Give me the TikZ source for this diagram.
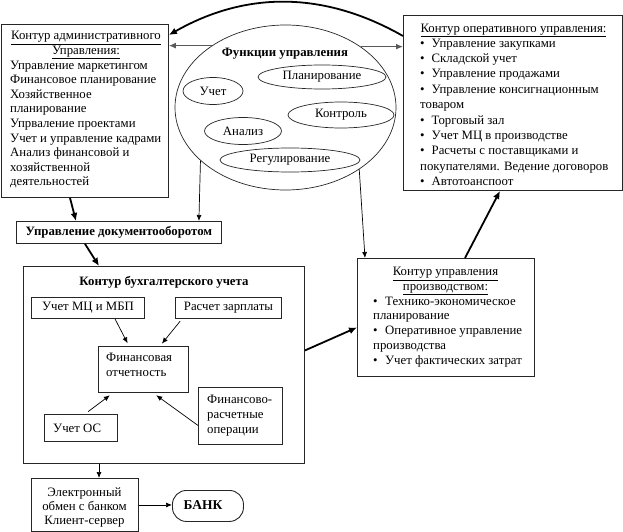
\documentclass[tikz,border=0pt]{standalone}
\usepackage{fontspec}
\setmainfont{Liberation Serif}
\usetikzlibrary{arrows.meta,shapes.geometric}
\begin{document}
\begin{tikzpicture}[x=1pt,y=-1pt,
  every node/.style={inner sep=0pt, font=\fontsize{12.8}{14.6}\selectfont},
  box/.style={draw=black!85, line width=0.9pt, anchor=north west},
  ell/.style={ellipse, draw=black!85, line width=0.7pt, fill=white},
  bigarrow/.style={line width=1.8pt, -{Latex[length=8pt,width=7pt]}},
  smallarrow/.style={line width=0.7pt, -{Latex[length=6pt,width=5pt]}},
  grayarrow/.style={line width=1.2pt, draw=black!65, -{Latex[length=7pt,width=6pt]}},
  boldtxt/.style={font=\fontsize{12.8}{14.6}\selectfont\bfseries},
]
\useasboundingbox (0,0) rectangle (623,532);

% administrative contour
\node[box, minimum width=167pt, minimum height=173pt] (adm) at (1,24) {};
\node[align=center, anchor=north] (admt) at (86,31) {\underline{Контур административного}\\\underline{Управления:}};
\node[align=left, anchor=north west] (admb) at (10,60.5) {Управление маркетингом\\Финансовое планирование\\Хозяйственное\\планирование\\Упрваление проектами\\Учет и управление кадрами\\Анализ финансовой и\\хозяйственной\\деятельностей};

% operational contour
\node[box, minimum width=219pt, minimum height=175pt] (ops) at (403,15) {};
\node[align=center, anchor=north] (opst) at (513.5,23.5) {\underline{Контур оперативного управления:}};
\node[align=left, anchor=north west, font=\fontsize{12.8}{15.4}\selectfont] (opsb) at (420,38.5) {\textbullet\hspace{7pt}Управление закупками\\
\textbullet\hspace{7pt}Складской учет\\
\textbullet\hspace{7pt}Управление продажами\\
\textbullet\hspace{7pt}Управление консигнационным\\
товаром\\
\textbullet\hspace{7pt}Торговый зал\\
\textbullet\hspace{7pt}Учет МЦ в производстве\\
\textbullet\hspace{7pt}Расчеты с поставщиками и\\
покупателями. Ведение договоров\\
\textbullet\hspace{7pt}Автотоанспоот};

% management functions
\node[ell, minimum width=221pt, minimum height=165pt] (fun) at (285.5,107.5) {};
\node[boldtxt] (funt) at (285,54) {Функции управления};
\node[ell, minimum width=60pt, minimum height=27pt] (uchet) at (213,91) {Учет};
\node[ell, minimum width=128pt, minimum height=24pt] (plan) at (322,77) {Планирование};
\node[ell, minimum width=106pt, minimum height=26pt] (kontr) at (341,115) {Контроль};
\node[ell, minimum width=77pt, minimum height=27pt] (anal) at (243,131) {Анализ};
\node[ell, minimum width=140pt, minimum height=24pt] (reg) at (290,160) {Регулирование};

% document flow
\node[box, boldtxt, minimum width=205pt, minimum height=22pt] (doc) at (16,221) {Управление документооборотом};

% accounting contour
\node[box, minimum width=281pt, minimum height=197pt] (acc) at (23,266) {};
\node[boldtxt] (acct) at (164,282) {Контур бухгалтерского учета};
\node[box, minimum width=113pt, minimum height=21pt] (mcz) at (31,297) {Учет МЦ и МБП};
\node[box, minimum width=106pt, minimum height=21pt] (zp) at (175,297) {Расчет зарплаты};
\node[box, minimum width=90pt, minimum height=46pt] (fin) at (98,346) {};
\node[align=left, anchor=north west, font=\fontsize{12.8}{15}\selectfont] (fint) at (106,353) {Финансовая\\отчетность};
\node[box, minimum width=73pt, minimum height=27pt] (os) at (44,414) {};
\node[anchor=west] (ost) at (53,428.5) {Учет ОС};
\node[box, minimum width=84pt, minimum height=57pt] (fr) at (198,387) {};
\node[align=left, anchor=north west, font=\fontsize{12.8}{15}\selectfont] (frt) at (207,395) {Финансово-\\расчетные\\операции};

% electronic exchange and bank
\node[box, minimum width=107pt, minimum height=53pt] (el) at (31,478) {};
\node[align=center, font=\fontsize{12.8}{14}\selectfont] (elt) at (84.5,507) {Электронный\\обмен с банком\\Клиент-сервер};
\node[draw=black!85, line width=0.9pt, rounded corners=14pt, anchor=north west, minimum width=71pt, minimum height=31pt] (bank) at (172,490) {};
\node[font=\fontsize{13.5}{15}\selectfont\bfseries] (bankt) at (203,505.5) {БАНК};

% production contour
\node[box, minimum width=177pt, minimum height=118pt] (prod) at (357,258) {};
\node[align=center, anchor=north, font=\fontsize{12.8}{14.8}\selectfont] (prodt) at (445.5,267) {\underline{Контур управления}\\\underline{производством:}};
\node[align=left, anchor=north west, font=\fontsize{12.8}{14.8}\selectfont] (prodb) at (373,296.5) {\textbullet\hspace{7.5pt}Технико-экономическое\\
планирование\\
\textbullet\hspace{7.5pt}Оперативное управление\\
производства\\
\textbullet\hspace{7.5pt}Учет фактических затрат};

% connectors
\draw[bigarrow] ([yshift=-21pt]ops.north west) .. controls (324,-9) and (246,-9) .. ([yshift=-11pt]adm.north east);
\draw[grayarrow] (fun.140.2) -- (fun.140.2 -| adm.east);
\draw[grayarrow] (fun.39.8) -- (fun.39.8 -| ops.west);
\draw[smallarrow] (fun.212.5) -- ([xshift=-23pt]doc.north east);
\draw[smallarrow] (fun.320) -- ([xshift=8pt]prod.north west);
\draw[bigarrow] ([xshift=69pt]adm.south west) -- ([xshift=60pt]doc.north west);
\draw[bigarrow] ([xshift=69pt]doc.south west) -- ([xshift=76pt]acc.north west);
\draw[bigarrow] ([yshift=14.5pt]acc.east) -- ([yshift=-10pt]prod.west);
\draw[bigarrow] ([xshift=108pt]prod.north west) -- ([xshift=97pt]ops.south west);
\draw[smallarrow, shorten >=3pt] ([xshift=84pt]mcz.south west) -- ([xshift=31pt]fin.north west);
\draw[smallarrow, shorten <=3pt, shorten >=3pt] ([xshift=7pt]zp.south west) -- ([xshift=62pt]fin.north west);
\draw[smallarrow, shorten <=4pt, shorten >=4pt] ([xshift=41pt]os.north west) -- ([xshift=15pt]fin.south west);
\draw[smallarrow, shorten >=4pt] ([yshift=-9.5pt]fr.west) -- ([xshift=55pt]fin.south west);
\draw[smallarrow] ([xshift=76pt]acc.south west) -- ([xshift=76pt]acc.south west |- el.north);
\draw[smallarrow] (el.east) -- (el.east -| bank.west);
\end{tikzpicture}
\end{document}
